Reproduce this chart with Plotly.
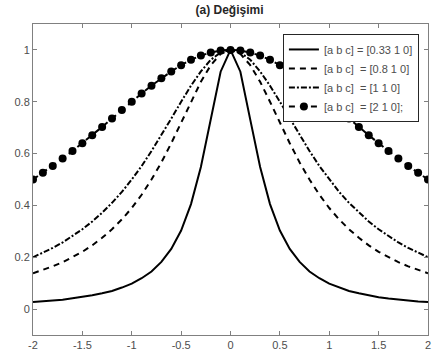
import plotly.graph_objects as go

x = [round(-2 + 0.1 * i, 1) for i in range(41)]

y_a033 = [0.027, 0.029, 0.033, 0.036, 0.041, 0.046, 0.053, 0.061, 0.070, 0.083,
          0.098, 0.119, 0.145, 0.182, 0.232, 0.303, 0.405, 0.548, 0.731, 0.916,
          1.000,
          0.916, 0.731, 0.548, 0.405, 0.303, 0.232, 0.182, 0.145, 0.119, 0.098,
          0.083, 0.070, 0.061, 0.053, 0.046, 0.041, 0.036, 0.033, 0.029, 0.027]
y_a08 = [0.138, 0.151, 0.165, 0.181, 0.200, 0.221, 0.246, 0.275, 0.308, 0.346,
         0.390, 0.441, 0.500, 0.566, 0.640, 0.719, 0.800, 0.877, 0.941, 0.985,
         1.000,
         0.985, 0.941, 0.877, 0.800, 0.719, 0.640, 0.566, 0.500, 0.441, 0.390,
         0.346, 0.308, 0.275, 0.246, 0.221, 0.200, 0.181, 0.165, 0.151, 0.138]
y_a1 = [0.200, 0.217, 0.236, 0.257, 0.281, 0.308, 0.338, 0.372, 0.410, 0.452,
        0.500, 0.552, 0.610, 0.671, 0.735, 0.800, 0.862, 0.917, 0.962, 0.990,
        1.000,
        0.990, 0.962, 0.917, 0.862, 0.800, 0.735, 0.671, 0.610, 0.552, 0.500,
        0.452, 0.410, 0.372, 0.338, 0.308, 0.281, 0.257, 0.236, 0.217, 0.200]
y_a2 = [0.500, 0.526, 0.552, 0.581, 0.610, 0.640, 0.671, 0.703, 0.735, 0.768,
        0.800, 0.832, 0.862, 0.891, 0.917, 0.941, 0.962, 0.978, 0.990, 0.998,
        1.000,
        0.998, 0.990, 0.978, 0.962, 0.941, 0.917, 0.891, 0.862, 0.832, 0.800,
        0.768, 0.735, 0.703, 0.671, 0.640, 0.610, 0.581, 0.552, 0.526, 0.500]

names = ["[a b c] = [0.33 1 0]", "[a b c]  = [0.8 1 0]",
         "[a b c]  = [1 1 0]", "[a b c]  = [2 1 0];"]
xticks = [-2, -1.5, -1, -0.5, 0, 0.5, 1, 1.5, 2]
xticklabels = ["-2", "-1.5", "-1", "-0.5", "0", "0.5", "1", "1.5", "2"]
yticks = [0, 0.2, 0.4, 0.6, 0.8, 1]
yticklabels = ["0", "0.2", "0.4", "0.6", "0.8", "1"]

fig = go.Figure()
fig.add_trace(go.Scatter(x=x, y=y_a033, mode="lines", name=names[0],
                         line=dict(color="black", width=2, dash="solid")))
fig.add_trace(go.Scatter(x=x, y=y_a08, mode="lines", name=names[1],
                         line=dict(color="black", width=2, dash="6px,5px")))
fig.add_trace(go.Scatter(x=x, y=y_a1, mode="lines", name=names[2],
                         line=dict(color="black", width=2, dash="6px,2px,2px,2px")))
fig.add_trace(go.Scatter(x=x, y=y_a2, mode="lines+markers", name=names[3],
                         line=dict(color="black", width=2, dash="6px,5px"),
                         marker=dict(color="black", size=8, symbol="circle")))

axis_common = dict(showline=True, mirror="ticks", linecolor="#808080", linewidth=1,
                   ticks="inside", ticklen=4, tickcolor="#808080",
                   showgrid=False, zeroline=False, automargin=False,
                   tickfont=dict(family="Arial", size=11, color="#4d4d4d"))

fig.update_layout(
    width=433, height=364,
    margin=dict(l=33, r=5, t=24, b=29),
    paper_bgcolor="white", plot_bgcolor="white",
    title=dict(text="<b>(a) Değişimi</b>", x=0.53, xanchor="center", y=0.972, yanchor="middle",
               font=dict(family="Arial", size=12, color="#262626")),
    xaxis=dict(range=[-2, 2], tickvals=xticks, ticktext=xticklabels, **axis_common),
    yaxis=dict(range=[-0.1, 1.1], tickvals=yticks, ticktext=yticklabels, **axis_common),
    legend=dict(x=0.977, y=0.968, xanchor="right", yanchor="top",
                bgcolor="white", bordercolor="#262626", borderwidth=1,
                font=dict(family="Arial", size=11, color="#4d4d4d"),
                tracegroupgap=0, itemwidth=30),
    showlegend=True,
)

fig.write_html("out.html",
               config={"displayModeBar": False, "staticPlot": True},
               post_script="document.body.style.margin='0';document.body.style.overflow='hidden';")
